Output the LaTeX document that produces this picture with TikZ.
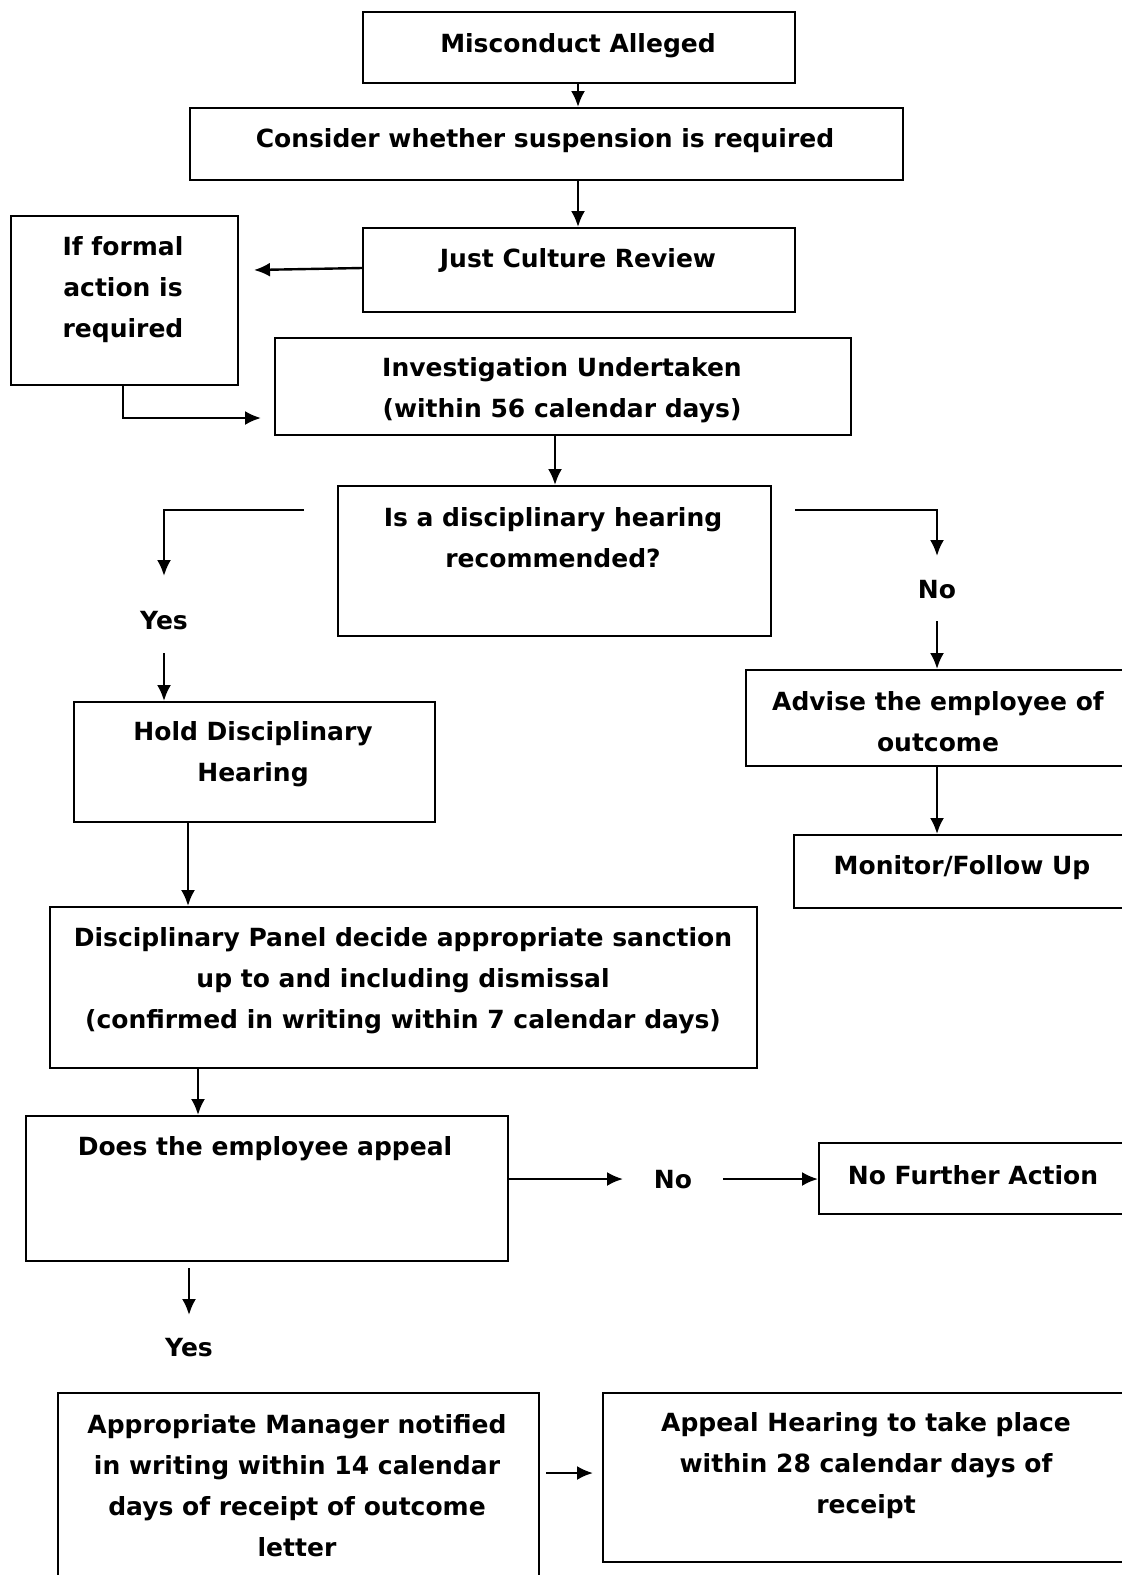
\documentclass[tikz,border=0pt]{standalone}
\usepackage{fontspec}
\setmainfont{DejaVu Sans}
\usepackage{tikz}
\usetikzlibrary{arrows.meta}

\tikzset{
  box/.style={draw, line width=2.2pt, minimum width=#1, anchor=north west, inner sep=0pt},
  txt/.style={align=center, font=\fontsize{25}{41}\selectfont\bfseries, inner sep=0pt},
  arr/.style={line width=2.4pt, -{Latex[length=16pt,width=14pt]}}
}

\begin{document}
\begin{tikzpicture}[x=1pt,y=-1pt]
  \useasboundingbox (0,0) rectangle (1122,1575);
      % boxes
      \node[box=432pt, minimum height=71pt] (mis) at (362,11) {};
      \node[box=713pt, minimum height=72pt] (cons) at (189,107) {};
      \node[box=432pt, minimum height=84pt] (jcr) at (362,227) {};
      \node[box=227pt, minimum height=169pt] (iff) at (10,215) {};
      \node[box=576pt, minimum height=97pt] (inv) at (274,337) {};
      \node[box=433pt, minimum height=150pt] (isd) at (337,485) {};
      \node[box=385pt, minimum height=96pt] (adv) at (745,669) {};
      \node[box=337pt, minimum height=73pt] (mon) at (793,834) {};
      \node[box=361pt, minimum height=120pt] (hold) at (73,701) {};
      \node[box=707pt, minimum height=161pt] (pan) at (49,906) {};
      \node[box=482pt, minimum height=145pt] (app) at (25,1115) {};
      \node[box=312pt, minimum height=71pt] (nfa) at (818,1142) {};
      \node[box=481pt, minimum height=200pt] (mgr) at (57,1392) {};
      \node[box=528pt, minimum height=169pt] (aph) at (602,1392) {};
        % texts
      \node[txt] (misT) at (578,46) {Misconduct Alleged};
      \node[txt] (consT) at (545,141) {Consider whether suspension is required};
      \node[txt] (jcrT) at (578,260) {Just Culture Review};
      \node[txt] (iffT) at (123,290) {If formal\\action is\\required};
      \node[txt] (invT) at (562,390) {Investigation Undertaken\\(within 56 calendar days)};
      \node[txt] (isdT) at (553,538) {Is a disciplinary hearing\\recommended?};
      \node[txt] (advT) at (938,722) {Advise the employee of\\outcome};
      \node[txt] (monT) at (962,868) {Monitor/Follow Up};
      \node[txt] (holdT) at (253,754) {Hold Disciplinary\\Hearing};
      \node[txt] (panT) at (403,981) {Disciplinary Panel decide appropriate sanction\\up to and including dismissal\\(confirmed in writing within 7 calendar days)};
      \node[txt] (appT) at (265,1149) {Does the employee appeal};
      \node[txt] (nfaT) at (973,1175) {No Further Action};
      \node[txt] (mgrT) at (297,1486) {Appropriate Manager notified\\in writing within 14 calendar\\days of receipt of outcome\\letter};
      \node[txt] (aphT) at (866,1466) {Appeal Hearing to take place\\within 28 calendar days of\\receipt};
      \node[txt] (yesA) at (164,621) {Yes};
      \node[txt] (noA) at (937,590) {No};
      \node[txt] (yesB) at (189,1348) {Yes};
      \node[txt] (noB) at (673,1180) {No};
        % free ends
      \coordinate (jcrE) at (254,270);
      \coordinate (iffE) at (261,418);
      \coordinate (isdL) at (304,510);
      \coordinate (isdR) at (795,510);
      \coordinate (noAE) at (937,556);
      \coordinate (yesAE) at (164,576);
      \coordinate (yesAS) at (164,653);
      \coordinate (noAS) at (937,621);
      \coordinate (noBE) at (623,1179);
      \coordinate (noBS) at (723,1179);
      \coordinate (yesBS) at (189,1268);
      \coordinate (yesBE) at (189,1315);
      \coordinate (mgrE) at (546,1473);
      \coordinate (aphE) at (593,1473);
        % connectors
      \draw[arr] (mis.south -| 578,0) -- (cons.north -| 578,0);
      \draw[arr] (cons.south -| 578,0) -- (jcr.north -| 578,0);
      \draw[arr] (jcr.west |- 0,268) -- (jcrE);
      \draw[arr] (iff.south -| 123,0) |- (iffE);
      \draw[arr] (inv.south -| 555,0) -- (isd.north -| 555,0);
      \draw[arr] (isdL) -| (yesAE);
      \draw[arr] (yesAS) -- (hold.north -| yesAS);
      \draw[arr] (isdR) -| (noAE);
      \draw[arr] (noAS) -- (adv.north -| noAS);
      \draw[arr] (adv.south -| 937,0) -- (mon.north -| 937,0);
      \draw[arr] (hold.south -| 188,0) -- (pan.north -| 188,0);
      \draw[arr] (pan.south -| 198,0) -- (app.north -| 198,0);
      \draw[arr] (app.east |- noBE) -- (noBE);
      \draw[arr] (noBS) -- (nfa.west |- noBS);
      \draw[arr] (yesBS) -- (yesBE);
      \draw[arr] (mgrE) -- (aphE);
    \end{tikzpicture}
\end{document}
